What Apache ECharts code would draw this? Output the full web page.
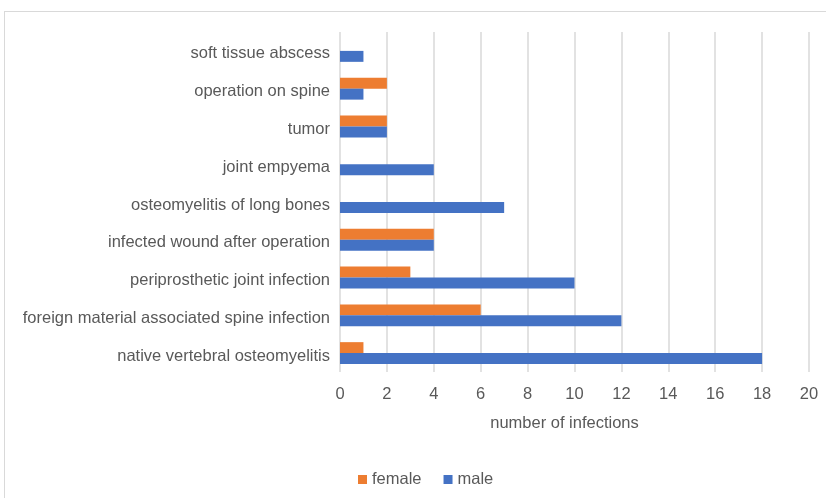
<!DOCTYPE html>
<html>
<head>
<meta charset="utf-8">
<script src="https://cdn.jsdelivr.net/npm/echarts@6/dist/echarts.min.js"></script>
<style>
  html, body { margin: 0; padding: 0; background: #fff; }
  #frame { position: absolute; left: 4px; top: 11px; width: 830px; height: 500px; border: 1px solid #d9d9d9; box-sizing: border-box; }
  #chart { position: absolute; left: 0; top: 0; width: 826px; height: 498px; }
</style>
</head>
<body>
<div id="frame"></div>
<div id="chart"></div>
<script>
// categories listed bottom to top
var categories = [
    'native vertebral osteomyelitis',
    'foreign material associated spine infection',
    'periprosthetic joint infection',
    'infected wound after operation',
    'osteomyelitis of long bones',
    'joint empyema',
    'tumor',
    'operation on spine',
    'soft tissue abscess'
];
var maleValues = [18, 12, 10, 4, 7, 4, 2, 1, 1];
var femaleValues = [1, 6, 3, 4, 0, 0, 2, 2, 0];
var xTicks = {min: 0, max: 20, interval: 2};

var textColor = '#595959';
var font = 'Liberation Sans, Arial, sans-serif';
var fontSize = 16.5;

var chart = echarts.init(document.getElementById('chart'));
chart.setOption({
    animation: false,
    textStyle: {fontFamily: font},
    grid: {left: 340, right: 17, top: 32, bottom: 126, containLabel: false},
    legend: {
        bottom: 5, left: 353, itemWidth: 9, itemHeight: 9, itemGap: 22,
        icon: 'rect',
        textStyle: {color: textColor, fontSize: fontSize, fontFamily: font},
        data: ['female', 'male']
    },
    xAxis: {
        type: 'value', min: xTicks.min, max: xTicks.max, interval: xTicks.interval,
        name: 'number of infections', nameLocation: 'middle', nameGap: 43,
        nameTextStyle: {color: textColor, fontSize: fontSize, fontFamily: font, padding: [0, 20, 0, 0]},
        axisLine: {show: false}, axisTick: {show: false},
        axisLabel: {color: textColor, fontSize: fontSize, margin: 14, fontFamily: font},
        splitLine: {lineStyle: {color: '#d9d9d9', width: 1.5}}
    },
    yAxis: {
        type: 'category', data: categories,
        axisLine: {show: false}, axisTick: {show: false},
        axisLabel: {
            margin: 10,
            formatter: function (v) { return '{a|' + v + '}'; },
            rich: {a: {color: textColor, fontSize: fontSize, fontFamily: font, padding: [6, 0, 0, 0]}}
        }
    },
    series: [
        {name: 'female', type: 'bar', data: femaleValues, itemStyle: {color: '#ed7d31'},
         barGap: '0%', barCategoryGap: '42%'},
        {name: 'male', type: 'bar', data: maleValues, itemStyle: {color: '#4472c4'},
         barGap: '0%', barCategoryGap: '42%'}
    ]
});
</script>
</body>
</html>
